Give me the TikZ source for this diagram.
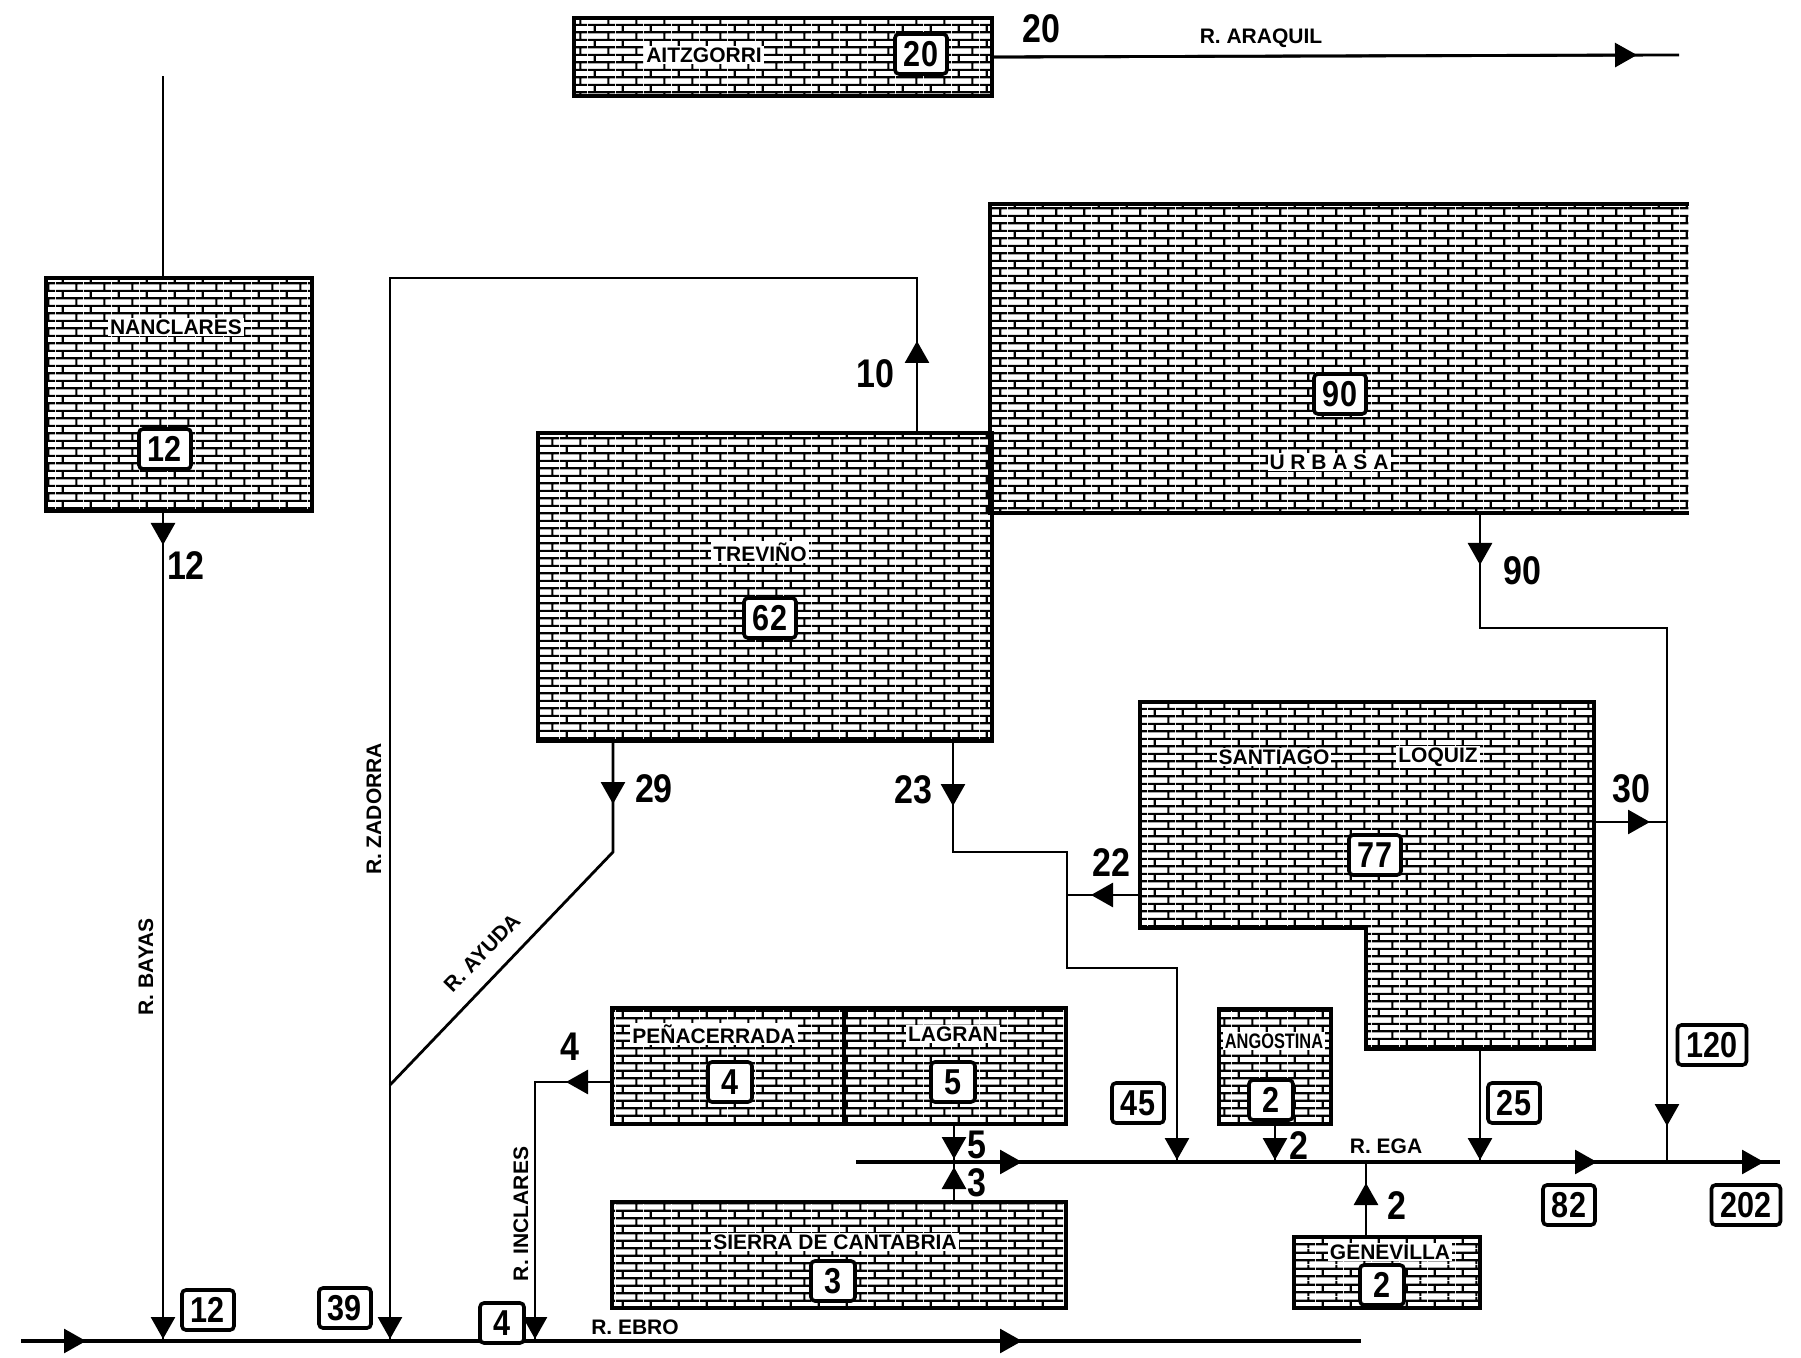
\documentclass[tikz,border=0pt]{standalone}
\usepackage{fontspec}
\setmainfont{Liberation Sans}
\newfontfamily\numfont[FakeStretch=0.85]{Liberation Sans}
\newfontfamily\condfont[FakeStretch=0.78]{Liberation Sans}
\usetikzlibrary{arrows.meta,patterns}

\pgfdeclarepatternformonly{bricky}{\pgfpointorigin}{\pgfqpoint{14pt}{7.7pt}}{\pgfqpoint{14pt}{7.7pt}}{%
  \pgfsetlinewidth{1.1pt}%
  \pgfpathmoveto{\pgfqpoint{0pt}{1.925pt}}\pgfpathlineto{\pgfqpoint{14pt}{1.925pt}}%
  \pgfpathmoveto{\pgfqpoint{0pt}{5.775pt}}\pgfpathlineto{\pgfqpoint{14pt}{5.775pt}}%
  \pgfpathmoveto{\pgfqpoint{3.5pt}{1.925pt}}\pgfpathlineto{\pgfqpoint{3.5pt}{5.775pt}}%
  \pgfpathmoveto{\pgfqpoint{10.5pt}{5.775pt}}\pgfpathlineto{\pgfqpoint{10.5pt}{7.7pt}}%
  \pgfpathmoveto{\pgfqpoint{10.5pt}{0pt}}\pgfpathlineto{\pgfqpoint{10.5pt}{1.925pt}}%
  \pgfusepath{stroke}}

\tikzset{
  brickbox/.style={draw, line width=2pt, pattern=bricky, inner sep=0pt, anchor=north west},
  brickfill/.style={pattern=bricky, inner sep=0pt, anchor=north west},
  numbox/.style={draw, line width=1.8pt, fill=white, rounded corners=2pt, inner xsep=4.5pt, inner ysep=2pt,
    minimum height=20pt, minimum width=22pt, font=\numfont\bfseries\fontsize{18pt}{18pt}\selectfont},
  namelab/.style={fill=white, inner sep=1pt, font=\bfseries\fontsize{10.5pt}{10.5pt}\selectfont},
  numlab/.style={inner sep=0pt, font=\numfont\bfseries\fontsize{20pt}{20pt}\selectfont},
  riverlab/.style={inner sep=0pt, font=\bfseries\fontsize{10.5pt}{10.5pt}\selectfont},
  flow/.style={line width=1.4pt},
  mainriver/.style={line width=1.8pt},
  tipline/.style={-{Triangle[length=11pt,width=12pt]}, line width=1.4pt},
  border/.style={line width=2pt, line join=miter}
}

\begin{document}
\begin{tikzpicture}[x=0.5pt,y=-0.5pt]
\useasboundingbox (0,0) rectangle (1801,1358);

% ---------- boxes ----------
\node[brickbox, minimum width=209pt, minimum height=39pt] (aitzgorri) at (572,16) {};
\node[brickbox, minimum width=133pt, minimum height=116.5pt] (nanclares) at (44,276) {};
\node[brickfill, minimum width=349pt, minimum height=154pt] (urbasa) at (990,204) {};
\draw[border] (urbasa.north east) -- (urbasa.north west) -- (urbasa.south west) -- (urbasa.south east);
\node[brickbox, minimum width=227pt, minimum height=154pt] (trevino) at (536,431) {};
\node[brickbox, minimum width=116pt, minimum height=58pt] (penacerrada) at (610,1006) {};
\node[brickbox, minimum width=111pt, minimum height=58pt] (lagran) at (842,1006) {};
\node[brickbox, minimum width=227pt, minimum height=53pt] (sierra) at (610,1200) {};
\node[brickbox, minimum width=56pt, minimum height=57.5pt] (angostina) at (1217,1007) {};
\node[brickbox, minimum width=93pt, minimum height=35.5pt] (genevilla) at (1292,1235) {};

% Santiago - Loquiz (L shape)
\coordinate (sq1) at (1140,702);
\coordinate (sq2) at (1594,702);
\coordinate (sq3) at (1594,1049);
\coordinate (sq4) at (1366,1049);
\coordinate (sq5) at (1366,928);
\coordinate (sq6) at (1140,928);
\path[pattern=bricky] (sq1) -- (sq2) -- (sq3) -- (sq4) -- (sq5) -- (sq6) -- cycle;
\draw[border] (sq1) -- (sq2) -- (sq3) -- (sq4) -- (sq5) -- (sq6) -- cycle;

% ---------- connectors ----------
% Araquil
\coordinate (araqE) at (1679,55);
\draw[flow] (aitzgorri.east) -- (araqE);
\draw[tipline] (aitzgorri.east) -- (1637,55);

% Bayas
\coordinate (nanTop) at (163,76);
\coordinate (bayasE) at (163,1341);
\draw[flow] (nanclares.north -| nanTop) -- (nanTop);
\draw[flow] (nanclares.south -| nanTop) -- (bayasE);
\draw[tipline] (nanclares.south -| nanTop) -- (163,545);
\draw[tipline] (163,1290) -- (163,1339);

% Ebro
\coordinate (ebroW) at (21,1341);
\coordinate (ebroE) at (1361,1341);
\draw[mainriver] (ebroW) -- (ebroE);
\draw[tipline] (40,1341) -- (86,1341);
\draw[tipline] (980,1341) -- (1022,1341);

% Zadorra
\coordinate (zadB) at (390,1341);
\coordinate (zadTL) at (390,278);
\coordinate (zadTR) at (917,278);
\draw[flow] (zadB) -- (zadTL) -- (zadTR) -- (trevino.north -| zadTR);
\draw[tipline] (trevino.north -| zadTR) -- (917,341);
\draw[tipline] (390,1290) -- (390,1339);

% Ayuda
\coordinate (t1) at (613,852);
\coordinate (ayudaJ) at (390,1085);
\draw[flow] (trevino.south -| t1) -- (t1) -- (ayudaJ);
\draw[tipline] (trevino.south -| t1) -- (613,804);

% Trevino -> Ega (23 / 45)
\coordinate (t2a) at (953,852);
\coordinate (t2b) at (1067,852);
\coordinate (t2c) at (1067,968);
\coordinate (t2d) at (1177,968);
\coordinate (egaJ45) at (1177,1162);
\draw[flow] (trevino.south -| t2a) -- (t2a) -- (t2b) -- (t2c) -- (t2d) -- (egaJ45);
\draw[tipline] (trevino.south -| t2a) -- (953,806);
\draw[tipline] (1177,1115) -- (1177,1160);

% 22
\coordinate (s22) at (1140,895);
\coordinate (j22) at (1067,895);
\draw[flow] (s22) -- (j22);
\draw[tipline] (s22) -- (1091,895);

% Urbasa -> 120
\coordinate (u1) at (1480,628);
\coordinate (u2) at (1667,628);
\coordinate (egaJ120) at (1667,1162);
\draw[flow] (urbasa.south -| u1) -- (u1) -- (u2) -- (egaJ120);
\draw[tipline] (urbasa.south -| u1) -- (1480,565);
\draw[tipline] (1667,1080) -- (1667,1126);

% 30
\coordinate (s30) at (1594,822);
\coordinate (j30) at (1667,822);
\draw[flow] (s30) -- (j30);
\draw[tipline] (s30) -- (1650,822);

% 25
\coordinate (s25) at (1480,1049);
\coordinate (egaJ25) at (1480,1162);
\draw[flow] (s25) -- (egaJ25);
\draw[tipline] (1480,1115) -- (1480,1160);

% Ega
\coordinate (egaW) at (856,1162);
\coordinate (egaE) at (1780,1162);
\draw[mainriver] (egaW) -- (egaE);
\draw[tipline] (980,1162) -- (1022,1162);
\draw[tipline] (1560,1162) -- (1597,1162);
\draw[tipline] (1725,1162) -- (1764,1162);

% Angostina
\coordinate (angJ) at (1275,1162);
\draw[flow] (angostina.south -| angJ) -- (angJ);
\draw[tipline] (angostina.south -| angJ) -- (1275,1160);

% Genevilla
\coordinate (genJ) at (1366,1162);
\draw[flow] (genevilla.north -| genJ) -- (genJ);
\draw[tipline] (genevilla.north -| genJ) -- (1366,1183);

% Penacerrada -> Inclares
\coordinate (pw) at (610,1082);
\coordinate (inc) at (535,1082);
\coordinate (incE) at (535,1341);
\draw[flow] (pw) -- (inc) -- (incE);
\draw[tipline] (pw) -- (566,1082);
\draw[tipline] (535,1290) -- (535,1339);

% Lagran and Sierra -> Ega
\coordinate (lagJ) at (954,1162);
\draw[flow] (lagran.south -| lagJ) -- (lagJ);
\draw[tipline] (lagran.south -| lagJ) -- (954,1159);
\draw[flow] (sierra.north -| lagJ) -- (lagJ);
\draw[tipline] (sierra.north -| lagJ) -- (954,1167);

% ---------- names inside boxes ----------
\node[namelab] (tAitz) at (704,55) {AITZGORRI};
\node[namelab] (tNan) at (176,327) {NANCLARES};
\node[namelab] (tTre) at (760,552) {TREVIÑO};
\node[namelab] (tUrb) at (1329,462) {U R B A S A};
\node[namelab] (tSan) at (1274,757) {SANTIAGO};
\node[namelab] (tLoq) at (1438,757) {LOQUIZ};
\node[namelab] (tPen) at (714,1034) {PEÑACERRADA};
\node[namelab] (tLag) at (953,1034) {LAGRAN};
\node[namelab] (tSie) at (835,1242) {SIERRA DE CANTABRIA};
\node[namelab, font=\condfont\bfseries\fontsize{10.5pt}{10.5pt}\selectfont] (tAng) at (1274,1041) {ANGOSTINA};
\node[namelab] (tGen) at (1390,1252) {GENEVILLA};

% ---------- number boxes ----------
\node[numbox] (n20) at (921,54) {20};
\node[numbox] (n12a) at (165,449) {12};
\node[numbox] (n62) at (770,618) {62};
\node[numbox] (n90) at (1340,394) {90};
\node[numbox] (n77) at (1375,855) {77};
\node[numbox] (n4a) at (730,1082) {4};
\node[numbox] (n5) at (953,1082) {5};
\node[numbox] (n3) at (833,1281) {3};
\node[numbox] (n2a) at (1271,1100) {2};
\node[numbox] (n2g) at (1382,1285) {2};
\node[numbox] (n12b) at (208,1310) {12};
\node[numbox] (n39) at (345,1308) {39};
\node[numbox] (n4b) at (502,1323) {4};
\node[numbox] (n45) at (1138,1103) {45};
\node[numbox] (n25) at (1514,1103) {25};
\node[numbox] (n82) at (1569,1205) {82};
\node[numbox] (n202) at (1746,1205) {202};
\node[numbox] (n120) at (1712,1045) {120};

% ---------- free numbers ----------
\node[numlab] (l20) at (1041,29) {20};
\node[numlab] (l12) at (186,566) {12};
\node[numlab] (l10) at (875,374) {10};
\node[numlab] (l29) at (654,789) {29};
\node[numlab] (l23) at (913,790) {23};
\node[numlab] (l90) at (1522,571) {90};
\node[numlab] (l30) at (1631,789) {30};
\node[numlab] (l22) at (1111,863) {22};
\node[numlab] (l4) at (570,1047) {4};
\node[numlab] (l5) at (977,1145) {5};
\node[numlab] (l3) at (977,1183) {3};
\node[numlab] (l2a) at (1299,1146) {2};
\node[numlab] (l2g) at (1397,1206) {2};

% ---------- river names ----------
\node[riverlab] (rAra) at (1261,38) {R. ARAQUIL};
\node[riverlab] (rEga) at (1386,1146) {R. EGA};
\node[riverlab] (rEbro) at (635,1327) {R. EBRO};
\node[riverlab, rotate=90] (rBay) at (146,967) {R. BAYAS};
\node[riverlab, rotate=90] (rZad) at (374,809) {R. ZADORRA};
\node[riverlab, rotate=46] (rAyu) at (482,953) {R. AYUDA};
\node[riverlab, rotate=90] (rInc) at (521,1214) {R. INCLARES};
\end{tikzpicture}
\end{document}
